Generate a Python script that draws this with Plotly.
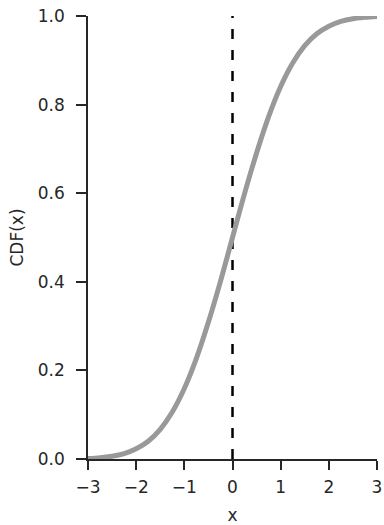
import plotly.graph_objects as go

x_vals = [-3.0, -2.75, -2.5, -2.25, -2.0, -1.75, -1.5, -1.25, -1.0, -0.75, -0.5, -0.25,
          0.0, 0.25, 0.5, 0.75, 1.0, 1.25, 1.5, 1.75, 2.0, 2.25, 2.5, 2.75, 3.0]
cdf_vals = [0.001, 0.003, 0.006, 0.012, 0.023, 0.040, 0.067, 0.106, 0.159, 0.227, 0.309, 0.401,
            0.500, 0.599, 0.691, 0.773, 0.841, 0.894, 0.933, 0.960, 0.977, 0.988, 0.994, 0.997, 0.999]
vline_x = [0, 0]
vline_y = [0, 1]
x_ticks = [-3, -2, -1, 0, 1, 2, 3]
y_ticks = [0.0, 0.2, 0.4, 0.6, 0.8, 1.0]

fig = go.Figure()
fig.add_trace(go.Scatter(x=vline_x, y=vline_y, mode="lines",
                         line=dict(color="black", width=2.5, dash="10px,11px"),
                         hoverinfo="skip", showlegend=False, cliponaxis=False))
fig.add_trace(go.Scatter(x=x_vals, y=cdf_vals, mode="lines",
                         line=dict(color="#999999", width=5, shape="spline"),
                         showlegend=False, cliponaxis=False))

axis_font = dict(family="DejaVu Sans", size=17, color="#262626")
title_font = dict(family="DejaVu Sans", size=17, color="#262626")
fig.update_layout(
    width=384, height=525,
    margin=dict(l=88, r=7, t=16, b=66, autoexpand=False),
    plot_bgcolor="white", paper_bgcolor="white",
    font=dict(family="DejaVu Sans", color="#262626"),
    xaxis=dict(range=[-3, 3], tickvals=x_ticks,
               ticktext=["\u22123", "\u22122", "\u22121", "0", "1", "2", "3"],
               ticks="outside", ticklen=9, tickwidth=1.5, tickcolor="#262626",
               showline=True, linecolor="#262626", linewidth=1.5,
               showgrid=False, zeroline=False, tickfont=axis_font,
               automargin=False, ticklabeloverflow="allow", ticklabelstandoff=3,
               title=dict(text="x", font=title_font, standoff=13)),
    yaxis=dict(range=[0, 1], tickvals=y_ticks, tickformat=".1f",
               ticks="outside", ticklen=10, tickwidth=1.5, tickcolor="#262626",
               showline=True, linecolor="#262626", linewidth=1.5,
               showgrid=False, zeroline=False, tickfont=axis_font,
               automargin=False, ticklabeloverflow="allow", ticklabelstandoff=8,
               title=dict(text="CDF(x)", font=title_font, standoff=10)),
)
fig.write_html("out.html", config={"displayModeBar": False},
               post_script="document.body.style.margin='0';document.body.style.padding='0';")
